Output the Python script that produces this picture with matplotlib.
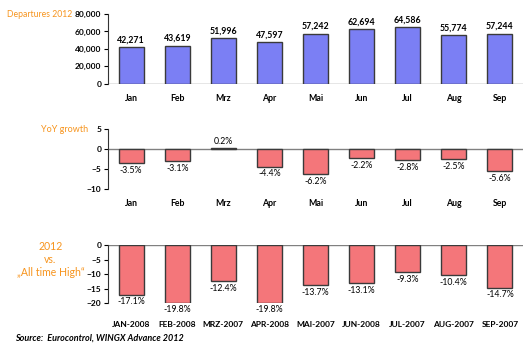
import matplotlib.pyplot as plt
from matplotlib.ticker import FuncFormatter

months = ["Jan", "Feb", "Mrz", "Apr", "Mai", "Jun", "Jul", "Aug", "Sep"]
departures = [42271, 43619, 51996, 47597, 57242, 62694, 64586, 55774, 57244]
yoy_growth = [-3.5, -3.1, 0.2, -4.4, -6.2, -2.2, -2.8, -2.5, -5.6]
peak_months = ["JAN-2008", "FEB-2008", "MRZ-2007", "APR-2008", "MAI-2007",
               "JUN-2008", "JUL-2007", "AUG-2007", "SEP-2007"]
vs_peak = [-17.1, -19.8, -12.4, -19.8, -13.7, -13.1, -9.3, -10.4, -14.7]

plt.rcParams["font.family"] = ["Lato", "DejaVu Sans"]
ORANGE = "#f7941d"
BLUE = "#7b7ff4"
RED = "#f4767a"
EDGE = "#3a3a3a"
FS = 6.3

fig = plt.figure(figsize=(5.25, 3.48), dpi=100)
ax1 = fig.add_axes([0.206, 0.759, 0.790, 0.201])
ax2 = fig.add_axes([0.206, 0.457, 0.790, 0.172])
ax3 = fig.add_axes([0.206, 0.129, 0.790, 0.167])

x = range(len(months))


def style(ax, labels, pad=7, size=FS):
    ax.set_xlim(-0.5, len(labels) - 0.5)
    ax.set_xticks(list(x))
    ax.set_xticklabels(labels, fontsize=size, fontweight="bold")
    ax.tick_params(axis="x", length=0, pad=pad)
    ax.tick_params(axis="y", labelsize=6.0, length=3, width=0.8, pad=2)
    for t in ax.get_yticklabels():
        t.set_fontweight("bold")
    ax.spines["top"].set_visible(False)
    ax.spines["right"].set_visible(False)
    ax.spines["left"].set_color("#333333")
    ax.spines["bottom"].set_visible(False)
    ax.axhline(0, color="#808080", lw=1.0, zorder=1)


# departures
ax1.bar(x, departures, width=0.54, color=BLUE, edgecolor=EDGE, lw=1.0, zorder=2)
ax1.set_ylim(0, 80000)
ax1.set_yticks([0, 20000, 40000, 60000, 80000])
ax1.yaxis.set_major_formatter(FuncFormatter(lambda v, p: f"{v:,.0f}"))
style(ax1, months)
for i, v in enumerate(departures):
    ax1.annotate(f"{v:,}", (i, v), xytext=(0, 2), textcoords="offset points",
                 ha="center", va="bottom", fontsize=FS, fontweight="bold")
fig.text(0.013, 0.957, "Departures 2012", color=ORANGE, fontsize=6.2,
         ha="left", va="center")

# year-on-year growth
ax2.bar(x, yoy_growth, width=0.54, color=RED, edgecolor=EDGE, lw=1.0, zorder=2)
ax2.set_ylim(-10, 5)
ax2.set_yticks([-10, -5, 0, 5])
style(ax2, months)
for i, v in enumerate(yoy_growth):
    if v >= 0:
        ax2.annotate(f"{v:.1f}%", (i, v), xytext=(0, 1.5), textcoords="offset points",
                     ha="center", va="bottom", fontsize=FS)
    else:
        ax2.annotate(f"{v:.1f}%", (i, v), xytext=(0, -2), textcoords="offset points",
                     ha="center", va="top", fontsize=FS)
fig.text(0.168, 0.629, "YoY growth", color=ORANGE, fontsize=6.5,
         ha="right", va="center")

# gap to all-time high
ax3.bar(x, vs_peak, width=0.54, color=RED, edgecolor=EDGE, lw=1.0, zorder=2)
ax3.set_ylim(-20, 0)
ax3.set_yticks([-20, -15, -10, -5, 0])
style(ax3, peak_months, pad=13, size=6.0)
for i, v in enumerate(vs_peak):
    ax3.annotate(f"{v:.1f}%", (i, v), xytext=(0, -2), textcoords="offset points",
                 ha="center", va="top", fontsize=FS)
fig.text(0.096, 0.255, "2012\nvs.\n\u201eAll time High\u201c", color=ORANGE,
         fontsize=7.6, ha="center", va="center", linespacing=1.25)

fig.text(0.028, 0.015, "Source:  Eurocontrol, WINGX Advance 2012",
         fontsize=6.5, fontstyle="italic", fontweight="bold", ha="left", va="bottom")

fig.savefig("out.png", dpi=100)
